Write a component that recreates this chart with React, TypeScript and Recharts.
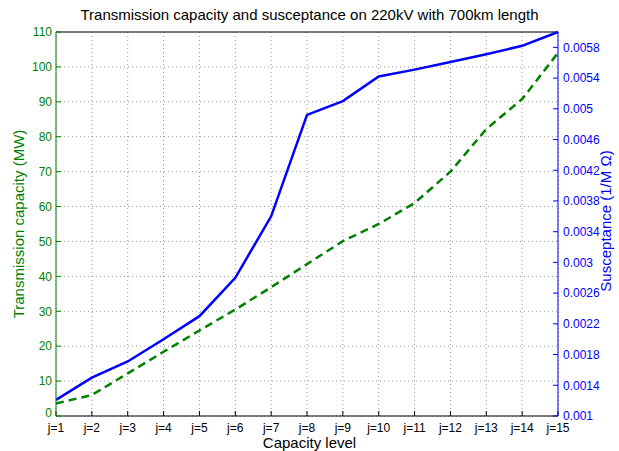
import React from 'react';
import { ComposedChart, Line, XAxis, YAxis, CartesianGrid, ReferenceLine } from 'recharts';

// Kapasitetsnivåer j=1..15
const levels = [1, 2, 3, 4, 5, 6, 7, 8, 9, 10, 11, 12, 13, 14, 15];
// Overføringskapasitet (MW)
const capacity = [3.6, 6.0, 12.2, 18.4, 24.5, 30.5, 36.9, 43.5, 50.1, 55.0, 61.0, 70.0, 82.2, 90.8, 104.0];
// Susceptans (1/M Ω)
const susceptance = [
  0.00121, 0.0015, 0.00171, 0.002, 0.0023, 0.0028, 0.0036, 0.00492, 0.0051, 0.00542, 0.00551, 0.00561,
  0.00571, 0.00582, 0.006,
];

const leftTicks = [0, 10, 20, 30, 40, 50, 60, 70, 80, 90, 100, 110];
const rightTicks = [0.001, 0.0014, 0.0018, 0.0022, 0.0026, 0.003, 0.0034, 0.0038, 0.0042, 0.0046, 0.005, 0.0054, 0.0058];

const data = levels.map((j, i) => ({ j, cap: capacity[i], sus: susceptance[i] }));

const FONT = '"Liberation Sans", Arial, sans-serif';
const GREEN = '#008000';
const BLUE = '#0000ff';

const fmtRight = (v: number) => String(parseFloat(v.toFixed(4)));

// Venstre aksetekst; "0" løftes litt så den ikke kolliderer med j=1
const LeftTick = (props: any) => {
  const { x, y, payload } = props;
  const v = payload.value;
  return (
    <text
      x={x}
      y={v === 0 ? y - 3 : y}
      dy="0.355em"
      textAnchor="end"
      fill={GREEN}
      fontSize={12}
      fontFamily={FONT}
    >
      {v}
    </text>
  );
};

export default function App() {
  return (
    <div style={{ position: 'absolute', left: 0, top: 0, width: 619, height: 451, background: '#fff', fontFamily: FONT }}>
      <ComposedChart width={619} height={451} data={data} margin={{ top: 32, right: 0, bottom: 0, left: 0 }}>
        <CartesianGrid yAxisId="left" stroke="#999" strokeDasharray="1 3" />
        <XAxis
          dataKey="j"
          type="number"
          domain={[1, 15]}
          ticks={levels}
          tickFormatter={(v) => `j=${v}`}
          height={35}
          stroke="#000"
          tickSize={-5}
          tickMargin={12}
          tick={{ fill: '#000', fontSize: 12, fontFamily: FONT }}
        />
        <XAxis
          xAxisId="top"
          orientation="top"
          dataKey="j"
          type="number"
          domain={[1, 15]}
          ticks={levels}
          tickFormatter={() => ''}
          height={0}
          stroke="#000"
          tickSize={-5}
        />
        <YAxis
          yAxisId="left"
          domain={[0, 110]}
          ticks={leftTicks}
          width={56}
          stroke={GREEN}
          tickSize={-5}
          tickMargin={9}
          tick={<LeftTick />}
        />
        <YAxis
          yAxisId="right"
          orientation="right"
          domain={[0.001, 0.006]}
          ticks={rightTicks}
          tickFormatter={fmtRight}
          width={61}
          stroke={BLUE}
          tickSize={-5}
          tickMargin={10}
          tick={{ fill: BLUE, fontSize: 12, fontFamily: FONT }}
        />
        <ReferenceLine yAxisId="left" y={110} stroke="#000" />
        <Line
          yAxisId="right"
          dataKey="sus"
          stroke={BLUE}
          strokeWidth={2.5}
          dot={false}
          isAnimationActive={false}
        />
        <Line
          yAxisId="left"
          dataKey="cap"
          stroke={GREEN}
          strokeWidth={2.5}
          strokeDasharray="8 5"
          dot={false}
          isAnimationActive={false}
        />
      </ComposedChart>

      {/* Tittel og aksetitler */}
      <div style={{ position: 'absolute', left: 0, width: 619, top: 6, textAlign: 'center', fontSize: 15, color: '#000' }}>
        Transmission capacity and susceptance on 220kV with 700km length
      </div>
      <div style={{ position: 'absolute', left: 0, width: 619, top: 435, textAlign: 'center', fontSize: 15, lineHeight: '15px' }}>
        Capacity level
      </div>
      <div
        style={{
          position: 'absolute',
          left: 18,
          top: 224,
          transform: 'translate(-50%, -50%) rotate(-90deg)',
          whiteSpace: 'nowrap',
          fontSize: 15,
          color: GREEN,
        }}
      >
        Transmission capacity (MW)
      </div>
      <div
        style={{
          position: 'absolute',
          left: 605,
          top: 221,
          transform: 'translate(-50%, -50%) rotate(-90deg)',
          whiteSpace: 'nowrap',
          fontSize: 15,
          color: BLUE,
        }}
      >
        Susceptance (1/M Ω)
      </div>
    </div>
  );
}
